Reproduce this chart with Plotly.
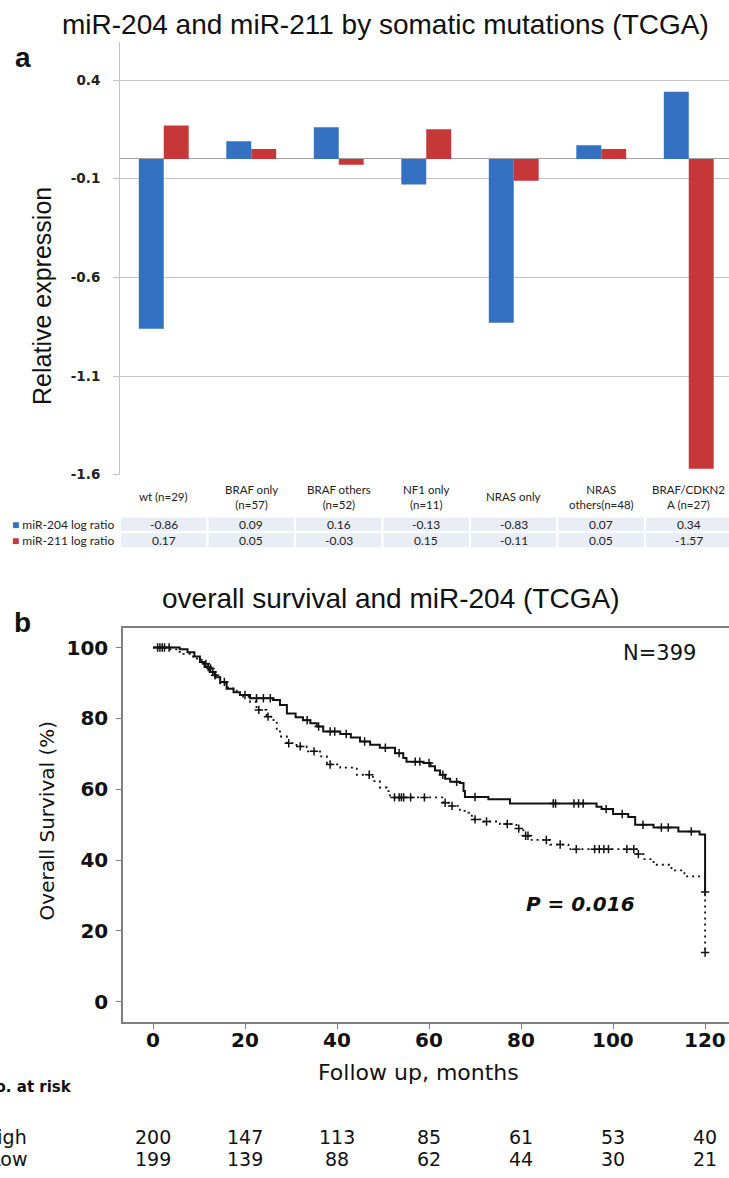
import plotly.graph_objects as go
import numpy as np

W, H = 729, 1178

# ---------------- data: panel a ----------------
categories = ["wt (n=29)", "BRAF only (n=57)", "BRAF others (n=52)", "NF1 only (n=11)",
              "NRAS only", "NRAS others(n=48)", "BRAF/CDKN2A (n=27)"]
category_labels = ["wt (n=29)", "BRAF only<br>(n=57)", "BRAF others<br>(n=52)", "NF1 only<br>(n=11)",
                   "NRAS only", "NRAS<br>others(n=48)", "BRAF/CDKN2<br>A (n=27)"]
mir204 = [-0.86, 0.09, 0.16, -0.13, -0.83, 0.07, 0.34]
mir211 = [0.17, 0.05, -0.03, 0.15, -0.11, 0.05, -1.57]
series_names = ["miR-204 log ratio", "miR-211 log ratio"]
bar_ticks = [-1.6, -1.1, -0.6, -0.1, 0.4]
bar_tick_text = ["-1.6", "-1.1", "-0.6", "-0.1", "0.4"]

# ---------------- data: panel b ----------------
high_t = [0, 5.8, 7.5, 9.0, 10.2, 11.2, 12.4, 13.5, 14.6, 16.0, 17.5, 18.9, 21.1, 26.1, 27.6, 29.1,
          31.0, 32.6, 34.2, 35.6, 37.0, 40.7, 43.0, 45.0, 47.2, 49.3, 52.6, 54.4, 55.1, 58.8, 60.3,
          61.3, 62.4, 63.5, 64.6, 66.7, 67.5, 67.8, 72.9, 77.6, 96.4, 97.5, 100.0, 103.3, 104.8,
          108.8, 114.2, 118.8, 120.0]
high_s = [100, 99.5, 98.7, 97.5, 95.9, 94.5, 93.1, 91.6, 90.3, 88.4, 87.4, 86.6, 85.7, 85.2, 83.8, 81.4,
          80.3, 79.5, 78.6, 77.7, 76.3, 75.6, 74.6, 73.5, 72.6, 71.7, 70.2, 68.8, 67.8, 67.4, 66.5,
          65.3, 64.1, 63.0, 62.1, 61.8, 59.5, 57.8, 57.2, 56.0, 55.1, 54.4, 53.0, 52.2, 50.0,
          49.2, 48.1, 47.2, 31.0]
low_t = [0, 3.5, 5.5, 6.6, 8.7, 10.6, 12.0, 13.0, 14.6, 16.3, 18.2, 19.6, 21.1, 22.5, 24.7, 26.2,
         26.9, 27.6, 29.1, 31.2, 33.4, 36.3, 37.8, 40.7, 44.3, 47.8, 49.3, 50.8, 51.5, 63.1, 64.9,
         66.7, 68.5, 69.3, 71.8, 75.4, 79.0, 80.5, 82.3, 86.3, 90.3, 105.1, 106.6, 108.8, 112.7,
         115.5, 120.0]
low_s = [100, 99.5, 98.8, 98.2, 96.9, 95.4, 94.1, 92.2, 89.9, 88.5, 87.0, 86.1, 84.7, 82.4, 80.5, 79.1,
         76.7, 74.9, 73.0, 72.1, 70.7, 69.3, 67.0, 66.1, 64.1, 62.3, 60.5, 59.5, 57.7, 56.2, 55.3,
         53.9, 53.4, 51.5, 50.9, 50.2, 48.9, 46.9, 45.7, 44.4, 43.1, 41.7, 40.3, 38.7, 37.1,
         35.4, 13.9]
high_censor = [1.5, 2.5, 3.5, 12.0, 13.0, 15.5, 20.0, 22.5, 24.0, 25.5, 33.5, 36.0, 38.5, 39.5, 42.0,
               46.0, 50.5, 53.5, 57.0, 58.0, 60.0, 63.0, 66.0, 70.0, 87.0, 87.5, 91.5, 92.5, 93.5,
               98.5, 102.0, 106.5, 110.5, 112.0, 117.0, 120.0]
low_censor = [1.0, 2.0, 11.5, 12.5, 13.5, 23.0, 25.0, 29.5, 32.0, 35.0, 38.5, 47.0, 52.5, 53.5, 54.0,
              54.5, 56.0, 59.0, 63.5, 65.0, 70.0, 72.5, 77.0, 79.5, 81.0, 81.5, 85.5, 88.5, 92.0,
              96.0, 97.0, 98.0, 99.0, 103.0, 104.5, 105.5, 120.0]
km_x_ticks = [0, 20, 40, 60, 80, 100, 120]
km_y_ticks = [0, 20, 40, 60, 80, 100]
risk_months = [0, 20, 40, 60, 80, 100, 120]
risk_high = [200, 147, 113, 85, 61, 53, 40]
risk_low = [199, 139, 88, 62, 44, 30, 21]
group_names = ["High", "Low"]

# ---------------- styling ----------------
ARIAL = "Liberation Sans, Arial, sans-serif"
CAL = "Lato, Carlito, Calibri, sans-serif"
DJ = "DejaVu Sans, Verdana, sans-serif"
BLUE = "#3571c3"
RED = "#c63737"
CELL = "#e9edf5"
INK = "#111111"


def px(x):
    return x / W


def py(y):
    return 1 - y / H


def step_value(times, surv, t):
    idx = np.searchsorted(np.array(times), t, side="right") - 1
    return surv[max(idx, 0)]


def note(text, x, y, xref="paper", yref="paper", xanchor="center", yanchor="middle", **kw):
    return dict(text=text, x=x, y=y, xref=xref, yref=yref, xanchor=xanchor, yanchor=yanchor,
                showarrow=False, **kw)


fig = go.Figure()

xs = list(range(len(categories)))
fig.add_trace(go.Bar(x=xs, y=mir204, name=series_names[0], marker=dict(color=BLUE, line=dict(width=0)),
                     xaxis="x", yaxis="y"))
fig.add_trace(go.Bar(x=xs, y=mir211, name=series_names[1], marker=dict(color=RED, line=dict(width=0)),
                     xaxis="x", yaxis="y"))

# KM curves
fig.add_trace(go.Scatter(x=high_t, y=high_s, mode="lines", line=dict(color=INK, width=2, shape="hv"),
                         name=group_names[0], xaxis="x2", yaxis="y2"))
fig.add_trace(go.Scatter(x=low_t, y=low_s, mode="lines",
                         line=dict(color=INK, width=1.8, shape="hv", dash="2px,4px"),
                         name=group_names[1], xaxis="x2", yaxis="y2"))
fig.add_trace(go.Scatter(x=high_censor, y=[step_value(high_t, high_s, t) for t in high_censor],
                         mode="markers", marker=dict(symbol="cross-thin", size=6, line=dict(color=INK, width=1.5)),
                         xaxis="x2", yaxis="y2"))
fig.add_trace(go.Scatter(x=low_censor, y=[step_value(low_t, low_s, t) for t in low_censor],
                         mode="markers", marker=dict(symbol="cross-thin", size=6, line=dict(color=INK, width=1.5)),
                         xaxis="x2", yaxis="y2"))

annotations = []
shapes = []

# titles and panel letters
annotations.append(note("miR-204 and miR-211 by somatic mutations (TCGA)", px(385), py(25),
                        font=dict(family=ARIAL, size=28, color=INK)))
annotations.append(note("<b>a</b>", px(23), py(58), font=dict(family=ARIAL, size=28, color=INK)))
annotations.append(note("Relative expression", px(42), py(298), textangle=-90,
                        font=dict(family=ARIAL, size=25, color=INK)))
annotations.append(note("overall survival and miR-204 (TCGA)", px(390), py(603),
                        font=dict(family=ARIAL, size=28, color=INK)))
annotations.append(note("<b>b</b>", px(22), py(627), font=dict(family=ARIAL, size=28, color=INK)))

# table under bar chart
for i, lab in enumerate(category_labels):
    annotations.append(note(lab, i, py(500), xref="x", font=dict(family=CAL, size=11.5, color="#222")))
    for vals, yc in ((mir204, 528), (mir211, 544)):
        shapes.append(dict(type="rect", xref="x", yref="paper", x0=i - 0.5, x1=i + 0.5,
                           y0=py(yc + 8), y1=py(yc - 8), fillcolor=CELL, line=dict(color="white", width=2),
                           layer="below"))
        annotations.append(note(f"{vals[i]:.2f}", i, py(yc), xref="x",
                                font=dict(family=CAL, size=12, color="#222")))
for name, col, yc in ((series_names[0], BLUE, 528), (series_names[1], RED, 544)):
    annotations.append(note(f"<span style='color:{col}'>■</span> {name}", px(116), py(yc), xanchor="right",
                            font=dict(family=CAL, size=12, color="#222")))

# KM annotations
annotations.append(note("N=399", px(659), py(657), font=dict(family=DJ, size=21, color=INK)))
annotations.append(note("<b><i>P = 0.016</i></b>", px(580), py(910), font=dict(family=DJ, size=20, color=INK)))
annotations.append(note("Overall Survival (%)", px(47), py(826), textangle=-90,
                        font=dict(family=DJ, size=20, color=INK)))
for m in km_x_ticks:
    annotations.append(note(f"<b>{m}</b>", m, py(1047), xref="x2", font=dict(family=DJ, size=20, color=INK)))
annotations.append(note("Follow up, months", px(418), py(1080), font=dict(family=DJ, size=22, color=INK)))
annotations.append(note("<b>No. at risk</b>", px(74), py(1094), xanchor="right",
                        font=dict(family=DJ, size=15, color=INK)))
for name, vals, yc in ((group_names[0], risk_high, 1145), (group_names[1], risk_low, 1167)):
    annotations.append(note(name, px(29), py(yc), xanchor="right", font=dict(family=DJ, size=19, color=INK)))
    for m, v in zip(risk_months, vals):
        annotations.append(note(str(v), m, py(yc), xref="x2", font=dict(family=DJ, size=19, color=INK)))

fig.update_layout(
    width=W, height=H, autosize=False,
    margin=dict(l=0, r=0, t=0, b=0),
    paper_bgcolor="white", plot_bgcolor="rgba(0,0,0,0)",
    showlegend=False,
    barmode="group", bargap=0.43, bargroupgap=0,
    xaxis=dict(domain=[px(120), 1], range=[-0.5, 6.46], showticklabels=False, showgrid=False,
               zeroline=False, showline=False, ticks="", anchor="y"),
    yaxis=dict(domain=[py(478), py(42)], range=[-1.6, 0.594], tickmode="array", tickvals=bar_ticks,
               ticktext=[f"<b>{t}</b>" for t in bar_tick_text], showgrid=True, gridcolor="#c4c4c4",
               gridwidth=1, zeroline=True, zerolinecolor="#a0a0a0", zerolinewidth=1.3,
               showline=True, linecolor="#c4c4c4", linewidth=1, ticks="outside", ticklen=6,
               tickcolor="#c4c4c4", ticklabelstandoff=10,
               tickfont=dict(family=DJ, size=13.5, color="#222"), anchor="x"),
    xaxis2=dict(domain=[px(123), 1], range=[-6.52, 125.2], tickmode="array", tickvals=km_x_ticks,
                showticklabels=False,
                showgrid=False, zeroline=False, showline=True, linecolor="#7f7f7f", linewidth=1.5,
                mirror=True, ticks="outside", ticklen=5, tickcolor="#7f7f7f", anchor="y2"),
    yaxis2=dict(domain=[py(1029), py(632)], range=[-5.69, 105.6], tickmode="array",
                tickvals=km_y_ticks, ticktext=[f"<b>{v}</b>" for v in km_y_ticks],
                showgrid=False, zeroline=False, showline=True,
                linecolor="#7f7f7f", linewidth=1.5, ticks="outside", ticklen=5, tickcolor="#7f7f7f",
                ticklabelstandoff=4,
                tickfont=dict(family=DJ, size=20, color=INK), anchor="x2"),
    annotations=annotations,
    shapes=shapes,
)

fig.write_html("out.html", config={"displayModeBar": False},
               post_script="document.body.style.margin='0px';document.body.style.overflow='hidden';")
